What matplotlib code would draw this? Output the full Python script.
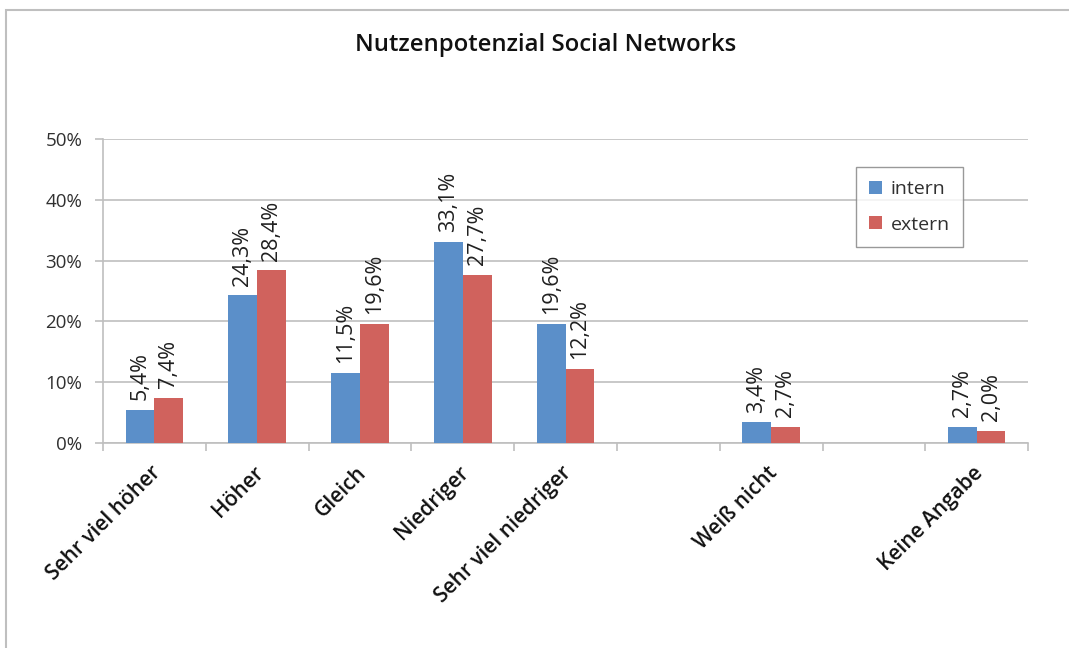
import numpy as np
import matplotlib.pyplot as plt
from matplotlib.patches import Rectangle

plt.rcParams['font.family'] = ['Open Sans', 'DejaVu Sans']

# slots with '' stay empty, as in the original chart
categories = ['Sehr viel höher', 'Höher', 'Gleich', 'Niedriger', 'Sehr viel niedriger',
              '', 'Weiß nicht', '', 'Keine Angabe']
intern = [5.4, 24.3, 11.5, 33.1, 19.6, np.nan, 3.4, np.nan, 2.7]
extern = [7.4, 28.4, 19.6, 27.7, 12.2, np.nan, 2.7, np.nan, 2.0]
yticks = [0, 10, 20, 30, 40, 50]

c_int = '#5B8FC9'
c_ext = '#D0625D'

fig = plt.figure(figsize=(10.69, 6.48), dpi=100)
ax = fig.add_axes([0.0964, 0.3164, 0.8653, 0.4691])

# outer chart border
fig.patches.append(Rectangle((0.006, -0.1), 1.2, 1.085, transform=fig.transFigure,
                             fill=False, edgecolor='#BFBFBF', linewidth=1.5))

x = np.arange(len(categories))
w = 0.28
b1 = ax.bar(x - w / 2, intern, w, color=c_int, label='intern', zorder=3)
b2 = ax.bar(x + w / 2, extern, w, color=c_ext, label='extern', zorder=3)

for bars, vals in ((b1, intern), (b2, extern)):
    for r, v in zip(bars, vals):
        if np.isnan(v):
            continue
        ax.text(r.get_x() + r.get_width() / 2, v + 1.6, f'{v:.1f}%'.replace('.', ','),
                rotation=90, ha='center', va='bottom', fontsize=15.5, color='#202020')

ax.set_xlim(-0.5, len(categories) - 0.5)
ax.set_ylim(0, 50)
ax.set_yticks(yticks)
ax.set_yticklabels([f'{t}%' for t in yticks], fontsize=13.5, color='#303030')
ax.yaxis.grid(True, color='#BFBFBF', linewidth=1.2, zorder=0)

# category ticks sit between slots
ax.set_xticks(np.arange(len(categories) + 1) - 0.5)
ax.set_xticklabels([])
ax.tick_params(axis='x', length=6, color='#BFBFBF', width=1.2)
ax.tick_params(axis='y', length=6, color='#BFBFBF', width=1.2, pad=9)
for i, lab in enumerate(categories):
    if lab:
        ax.text(i - 0.04, -3.2, lab, rotation=45, ha='right', va='top',
                rotation_mode='anchor', fontsize=15, fontweight='semibold', color='#111111')

for s in ['top', 'right']:
    ax.spines[s].set_visible(False)
for s in ['left', 'bottom']:
    ax.spines[s].set_color('#BFBFBF')
    ax.spines[s].set_linewidth(1.2)

leg = ax.legend(loc='upper left', bbox_to_anchor=(0.803, 0.941), fontsize=14,
                frameon=True, fancybox=False, edgecolor='#808080', handlelength=0.65,
                handleheight=0.65, labelspacing=0.9, borderpad=0.7, handletextpad=0.45)
leg.get_frame().set_linewidth(1.0)
for t in leg.get_texts():
    t.set_color('#303030')

fig.text(0.51, 0.93, 'Nutzenpotenzial Social Networks', ha='center', va='center',
         fontsize=17.2, fontweight='semibold', color='#111111')

fig.savefig('out.png', dpi=100)
